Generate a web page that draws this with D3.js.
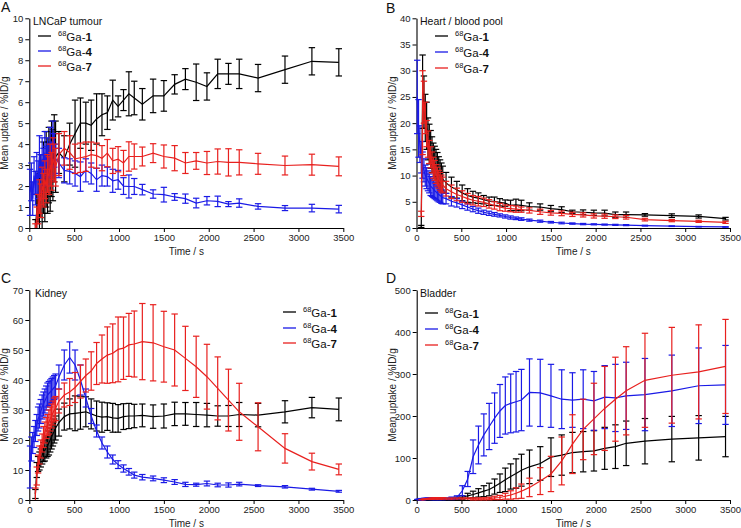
<!DOCTYPE html>
<html><head><meta charset="utf-8">
<script src="https://cdn.jsdelivr.net/npm/d3@7"></script>
<style>
body{margin:0;background:#fff;}
svg{display:block;font-family:Arial,"Liberation Sans",Helvetica,sans-serif;}
</style></head>
<body>
<svg id="c" width="741" height="528"></svg>
<script>
// frame mid-times (s)
const T = [8,23,38,53,68,83,98,113,128,143,158,173,188,203,218,233,248,263,278,293,
  330,390,450,510,570,630,690,750,810,870,930,990,1050,1110,1170,
  1260,1380,1500,1620,1740,1860,1980,2100,2220,2340,
  2550,2850,3150,3450];
const N = null;
const compounds = ["1","4","7"];
const colors = ["#000000","#1a1ae6","#e8201e"];

// Panel A: LNCaP tumour
const a1 = [N,N,N,N,0.1,0.8,1.5,1.2,2.0,1.6,2.4,1.9,2.8,2.4,3.0,2.7,3.3,3.0,3.8,3.4,
  3.6,3.3,4.0,4.5,5.0,5.0,4.9,5.2,5.4,5.5,6.1,5.8,6.1,6.4,6.2,
  5.9,6.3,6.3,6.85,7.1,6.95,6.75,7.35,7.35,7.35, 7.15,7.55,7.95,7.9];
const a1e = [N,N,N,N,0.3,0.8,1.2,1.4,1.5,1.6,1.7,1.6,1.8,1.7,1.8,1.9,1.8,1.7,1.6,1.7,
  1.0,1.1,1.0,1.6,1.2,1.0,1.2,1.2,1.0,0.8,0.95,0.5,0.5,1.05,0.8,
  0.75,0.8,0.73,0.46,0.5,0.87,0.65,0.7,0.5,0.7, 0.65,0.65,0.65,0.65];
const a4 = [1.7,2.2,1.4,2.5,1.9,2.6,2.3,3.4,2.6,3.3,2.9,3.6,3.0,3.4,3.2,3.9,3.3,4.5,3.7,3.3,
  3.1,2.75,2.7,2.6,2.45,2.75,2.6,2.3,2.5,2.45,2.25,2.3,2.0,1.98,1.98,
  1.83,1.62,1.59,1.48,1.4,1.19,1.3,1.27,1.14,1.19, 1.03,0.95,0.95,0.9];
const a4e = [1.1,0.9,0.8,0.9,0.8,1.0,0.9,1.0,0.9,1.0,0.9,1.0,0.9,0.9,0.8,0.9,0.8,0.6,0.8,0.7,
  0.7,0.6,0.6,0.6,0.7,0.55,0.5,0.55,0.5,0.45,0.55,0.45,0.4,0.55,0.38,
  0.25,0.2,0.35,0.16,0.22,0.23,0.2,0.25,0.12,0.2, 0.13,0.12,0.18,0.18];
const a7 = [N,N,N,N,0.0,0.5,0.9,1.5,1.3,2.0,1.8,2.3,2.0,2.6,2.5,3.0,2.7,3.3,3.1,2.9,
  3.5,3.8,3.6,3.3,3.35,3.4,3.5,3.45,3.33,3.57,3.2,3.28,3.1,3.41,3.41,
  3.41,3.57,3.41,3.33,3.1,3.2,3.1,3.17,3.13,3.13, 3.06,2.98,3.02,2.94];
const a7e = [N,N,N,N,0.2,0.5,0.7,0.8,0.8,0.9,0.8,0.9,0.8,0.9,0.9,1.0,0.9,1.0,0.9,0.9,
  1.0,0.8,0.8,0.7,0.7,0.7,0.6,0.6,0.6,0.65,0.6,0.6,0.6,0.7,0.6,
  0.45,0.45,0.55,0.6,0.5,0.4,0.55,0.6,0.65,0.6, 0.5,0.45,0.5,0.45];

// Panel B: Heart / blood pool
const b1 = [N,N,N,0.3,26,24,21,19.5,17,16,15,14,13,12.5,12,11.5,10.8,10.3,9.8,9.3,
  8.6,7.8,7.3,6.7,6.2,5.9,5.7,5.4,5.1,5.1,4.9,4.75,4.3,4.4,4.3,
  4.1,4.0,3.7,3.5,3.1,3.0,2.9,2.85,2.55,2.55, 2.5,2.35,2.2,1.78];
const b1e = [N,N,N,0.2,7,5,4.5,4.5,4,3.8,3.6,3.4,3.2,3.1,3.0,2.9,2.8,2.7,2.6,2.5,
  2.0,1.9,1.6,1.5,1.3,1.1,1.0,0.8,0.8,0.8,0.7,0.6,1.0,1.1,1.0,
  0.7,0.6,0.6,0.55,0.3,0.45,0.5,0.55,0.5,0.5, 0.25,0.35,0.3,0.25];
const b4 = [25,19,16,13.5,12,11,10,9.5,9,8.5,8,7.7,7.4,7.1,6.9,6.6,6.4,6.2,6.0,5.8,
  5.6,5.1,4.8,4.4,4.0,3.6,3.3,3.0,2.8,2.6,2.4,2.2,2.0,1.85,1.7,
  1.5,1.3,1.1,0.95,0.85,0.75,0.7,0.65,0.6,0.55, 0.45,0.35,0.25,0.2];
const b4e = [7,5.5,3.5,3,2.5,2.2,2,2,1.9,1.8,1.8,1.7,1.6,1.5,1.5,1.4,1.4,1.3,1.3,1.2,
  1.0,0.9,0.8,0.7,0.6,0.5,0.5,0.4,0.4,0.35,0.3,0.3,0.3,0.25,0.25,
  0.2,0.2,0.15,0.15,0.12,0.12,0.1,0.1,0.1,0.1, 0.08,0.06,0.05,0.05];
const b7 = [N,N,N,2.7,22,24,21,18,16,14.5,13.5,12.5,11.5,11,10.3,9.8,9.3,8.9,8.5,8.2,
  7.5,6.9,6.4,6.0,5.6,5.3,5.1,4.9,4.6,4.3,4.0,3.8,3.7,3.6,3.5,
  3.35,3.1,2.9,2.8,2.6,2.5,2.3,2.25,2.15,2.05, 1.6,1.4,1.27,1.08];
const b7e = [N,N,N,0.5,8,4,3,2.5,2.5,2.2,2,2,2,1.9,1.8,1.8,1.7,1.7,1.6,1.5,
  1.4,1.3,1.2,1.1,1.0,0.9,0.9,0.8,0.8,0.7,0.7,0.6,0.6,0.6,0.5,
  0.5,0.5,0.45,0.45,0.4,0.4,0.4,0.4,0.35,0.35, 0.25,0.2,0.2,0.2];

// Panel C: Kidney
const c1 = [N,N,N,N,2,10,12,13,14,15,16,16.5,17.5,18,19,20,21,22,23,24,
  25.8,27.8,28.7,28.9,29.1,29.4,28.7,28,27.6,27.8,27.4,27.2,27.8,28,28,
  28.2,27.8,28,28.7,28.7,28.5,28.3,28,28,28.5, 28.3,29.4,30.8,30.2];
const c1e = [N,N,N,N,1.5,2.5,2.5,3,3,3,3.2,3.5,3.5,3.5,4,4,4,4,4,4,
  4.5,4.5,5,5.8,5.5,5,5,5,5,4.6,4.8,4.6,4.3,4.2,3.9,
  3.8,3.9,4,3.9,3.8,4,3.9,3.4,3.5,4, 3.9,3.7,3.4,3.8];
const c4 = [11,17,19,21,23,25,27,28,29.5,31,32,33,34,35,35.5,36,36.5,37,37.5,38,
  41,45,47.5,45,40,34,28,23,19,16,13.5,11.8,10.5,9.4,8.3,
  7.6,7.2,6.6,6.0,5.2,5.1,5.5,5.0,5.0,5.3, 4.8,4.4,3.6,2.9];
const c4e = [7,4,3.5,3.5,3.5,3.5,4,4,4,4,4,4,4,4,4,4,4,4,4,4,
  4,5,5.2,5,5,3,2.5,2,2,2,1.5,1.3,1.2,1.1,1,
  0.9,0.8,0.8,0.8,0.7,0.5,0.8,0.6,0.7,0.6, 0.3,0.4,0.3,0.3];
const c7 = [N,N,N,N,2,8,12,15,17,19,21,22.5,24,25,26,27,28,29,30,30.5,
  33,35,36,37.5,39.5,41.5,43,45.5,47,48.3,48.9,50.2,50.6,51.7,52,
  52.8,52.4,51.1,50,47.2,44.4,41.1,37.2,33.3,29.4, 24.4,17.2,12.8,10.2];
const c7e = [N,N,N,N,2,3,3,3,3,3,3.5,3.5,3.5,3.5,4,4,4,4,4,4,
  4,4,4.5,5,5.5,5.5,6.4,7,8,9.4,9.8,10.8,10.4,10.5,11,
  12.7,12.7,11.8,12,10.7,10.2,10.8,10.5,10.3,9.5, 8,4.9,2.8,1.8];

// Panel D: Bladder
const d1 = [0.2,0.4,0.6,0.8,1,1,1.2,1.3,1.4,1.5,1.5,1.6,1.7,1.8,1.8,1.9,2,2,2.1,2.2,
  2.5,3,4,6,10,13,17,21,25,32,40,48,56,63,71,
  79,87,102,107,113,115,117,123,127,135, 140,145,148,151];
const d1e = [0.5,0.6,0.8,1,1,1.2,1.2,1.3,1.3,1.4,1.4,1.5,1.5,1.6,1.6,1.6,1.7,1.7,1.8,1.8,
  1.5,2,3,4,6,8,10,13,15,18,22,28,30,35,38,
  40,40,46,48,48,48,48,50,52,53, 54,54,53,48];
const d4 = [0.5,1,1.5,2,2,2.5,2.5,3,3,3,3,3,3,3,3,3,3,3,3,3,
  3,4,6,22,50,103,131,155,175,195,212,225,230,234,238,
  256,255,248,240,238,240,236,245,243,248, 251,260,272,274];
const d4e = [1,1,1.2,1.5,1.5,1.5,1.5,1.5,1.5,1.5,2,2,2,2,2,2,2,2,2,2,
  2,3,4,12,18,40,45,50,55,60,63,68,70,72,73,
  80,80,75,70,65,70,70,75,80,80, 86,85,90,94];
const d7 = [N,N,N,0.2,0.5,0.8,1,1.2,1.3,1.5,1.5,1.6,1.7,1.8,1.8,1.9,2,2,2.1,2.2,
  2.2,2.3,2.4,2.5,2.5,2.6,2.7,2.8,3.5,5,6,9,12,16,21,
  30,45,62,93,133,168,193,218,240,260, 285,297,305,318];
const d7e = [N,N,N,0.5,1,1.5,1.8,2,2.2,2.5,2.5,2.8,3,3,3.2,3.2,3.5,3.5,3.5,3.5,
  2.5,2.5,2.5,2.5,2.5,2.5,2.5,2.5,3,4,5,7,10,13,17,
  22,32,42,57,70,72,85,100,100,105, 112,114,112,112];

const xTicks = [0,500,1000,1500,2000,2500,3000,3500];

const panels = [
  {letter:"A", lx:1, ly:12, x0:29.3, x1:343.3, yTop:18.3, yBot:228, yMax:10, yStep:1,
   title:"LNCaP tumour", tx:33, ty:25, legX:38, legY:[36,51,66],
   series:[[a1,a1e],[a4,a4e],[a7,a7e]]},
  {letter:"B", lx:386, ly:13, x0:416.5, x1:730, yTop:18.3, yBot:228, yMax:40, yStep:5,
   title:"Heart / blood pool", tx:420, ty:25, legX:435, legY:[36,52,68],
   series:[[b1,b1e],[b4,b4e],[b7,b7e]]},
  {letter:"C", lx:1, ly:283, x0:29.3, x1:343.3, yTop:290, yBot:500, yMax:70, yStep:10,
   title:"Kidney", tx:35, ty:297, legX:283, legY:[312,328,343],
   series:[[c1,c1e],[c4,c4e],[c7,c7e]]},
  {letter:"D", lx:386, ly:283, x0:416.7, x1:730, yTop:290, yBot:500, yMax:500, yStep:100,
   title:"Bladder", tx:420, ty:297, legX:425, legY:[313,329,345],
   series:[[d1,d1e],[d4,d4e],[d7,d7e]]}
];

const svg = d3.select("#c");

panels.forEach(p => {
  const g = svg.append("g");
  const x = d3.scaleLinear().domain([0,3500]).range([p.x0,p.x1]);
  const y = d3.scaleLinear().domain([0,p.yMax]).range([p.yBot,p.yTop]);
  const yTicks = d3.range(0, p.yMax + p.yStep/2, p.yStep);

  const xa = g.append("g").attr("transform",`translate(0,${p.yBot})`)
    .call(d3.axisBottom(x).tickValues(xTicks).tickFormat(d3.format("d")).tickSize(4).tickPadding(2).tickSizeOuter(0));
  const ya = g.append("g").attr("transform",`translate(${p.x0},0)`)
    .call(d3.axisLeft(y).tickValues(yTicks).tickFormat(d3.format("d")).tickSize(4).tickPadding(2).tickSizeOuter(0));
  [xa,ya].forEach(a=>{
    a.select(".domain").attr("stroke","#000").attr("stroke-width",1.1);
    a.selectAll(".tick line").attr("stroke","#000").attr("stroke-width",1);
    a.selectAll(".tick text").attr("font-size",9.5).attr("fill","#222")
      .attr("font-family","Arial, 'Liberation Sans', sans-serif");
  });

  // axis titles
  g.append("text").attr("x",(p.x0+p.x1)/2).attr("y",p.yBot+27)
    .attr("text-anchor","middle").attr("font-size",10).attr("fill","#222").text("Time / s");
  g.append("text").attr("transform",`translate(${p.x0-21},${(p.yTop+p.yBot)/2}) rotate(-90)`)
    .attr("text-anchor","middle").attr("font-size",10).attr("fill","#222").text("Mean uptake / %ID/g");

  // panel letter
  g.append("text").attr("x",p.lx).attr("y",p.ly).attr("font-size",14).attr("fill","#111").text(p.letter);
  // title
  g.append("text").attr("x",p.tx).attr("y",p.ty).attr("font-size",10.5).attr("fill","#111").text(p.title);

  // series
  p.series.forEach((s,i) => {
    const [vals, errs] = s;
    const pts = T.map((t,k)=>({t, v:vals[k], e:errs[k]})).filter(d=>d.v!==null);
    const col = colors[i];
    const eb = g.append("g").attr("stroke",col).attr("stroke-width",1.2).attr("fill","none");
    pts.forEach(d=>{
      const lo = Math.max(0, d.v - d.e), hi = d.v + d.e;
      const cx = x(d.t);
      eb.append("line").attr("x1",cx).attr("x2",cx).attr("y1",y(lo)).attr("y2",y(hi));
      eb.append("line").attr("x1",cx-3.2).attr("x2",cx+3.2).attr("y1",y(hi)).attr("y2",y(hi));
      if (d.v - d.e > 0) eb.append("line").attr("x1",cx-3.2).attr("x2",cx+3.2).attr("y1",y(lo)).attr("y2",y(lo));
    });
    g.append("path").datum(pts)
      .attr("fill","none").attr("stroke",col).attr("stroke-width",1.2)
      .attr("d", d3.line().x(d=>x(d.t)).y(d=>y(d.v)));
  });

  // legend
  compounds.forEach((c,i)=>{
    const ly = p.legY[i];
    g.append("line").attr("x1",p.legX).attr("x2",p.legX+13).attr("y1",ly).attr("y2",ly)
      .attr("stroke",colors[i]).attr("stroke-width",1.3);
    const t = g.append("text").attr("x",p.legX+20).attr("y",ly+4.5).attr("font-size",11.5).attr("fill","#111");
    t.append("tspan").attr("font-size",7.5).attr("dy",-4.5).text("68");
    t.append("tspan").attr("dy",4.5).text("Ga-");
    t.append("tspan").attr("font-weight","bold").text(c);
  });
});
</script>
</body></html>
